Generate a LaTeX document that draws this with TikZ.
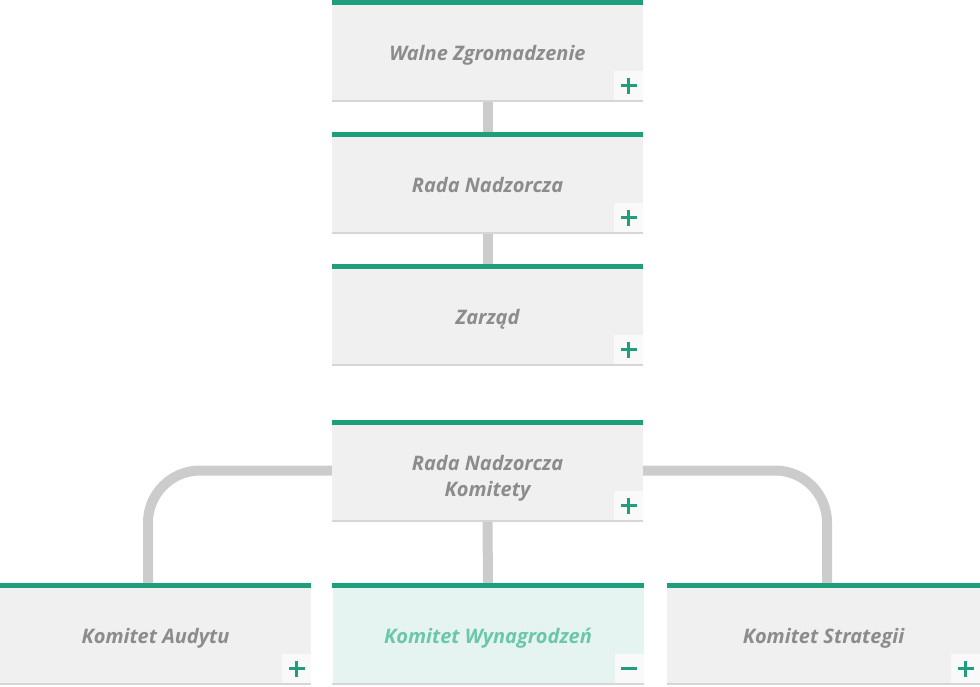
\documentclass[tikz,border=0pt]{standalone}
\usepackage{fontspec}
\setmainfont{Open Sans}
\usepackage{tikz}

\definecolor{barteal}{HTML}{1E9E7D}
\definecolor{boxgray}{HTML}{F0F0F0}
\definecolor{boxmint}{HTML}{E6F4F1}
\definecolor{labelgray}{HTML}{8C8C8C}
\definecolor{labelmint}{HTML}{6CC6AD}
\definecolor{linkgray}{HTML}{CCCCCC}
\definecolor{shadowgray}{HTML}{D6D6D6}

\tikzset{
  orgbox/.style={rectangle, fill=boxgray, minimum width=311pt, minimum height=95pt,
    inner sep=0pt, align=center, text=labelgray, text height=17pt, text depth=2pt,
    font=\fontsize{20}{26}\selectfont\bfseries\itshape},
  activebox/.style={orgbox, fill=boxmint, text=labelmint},
  link/.style={draw=linkgray, line width=10pt},
  btn/.style={fill=white!60!boxgray, minimum size=29pt, inner sep=0pt, anchor=south east},
  sign/.style={draw=barteal, line width=2.2pt}
}

\begin{document}
\begin{tikzpicture}[x=1pt,y=-1pt]
\useasboundingbox (0,0) rectangle (980,686);

% top chain
\node[orgbox] (wz) at (487.5,52.5) {Walne Zgromadzenie};
\node[orgbox] (rn) at (487.5,184.5) {Rada Nadzorcza};
\node[orgbox] (zr) at (487.5,316.5) {Zarząd};
\node[orgbox, text height=49pt] (rk) at (487.5,472.5) {Rada Nadzorcza\\Komitety};

% committees
\node[orgbox] (ka) at (155.5,635.5) {Komitet Audytu};
\node[activebox] (kw) at (488,635.5) {Komitet Wynagrodzeń};
\node[orgbox, minimum width=313pt] (ks) at (823.5,635.5) {Komitet Strategii};

% connectors
\draw[link] (wz.south) -- (rn.north);
\draw[link] (rn.south) -- (zr.north);
\draw[link] (rk.south) -- (kw.north);
\draw[link, rounded corners=52pt] ([yshift=2pt]rk.west) -| ([xshift=-7.5pt]ka.north);
\draw[link, rounded corners=52pt] ([yshift=2pt]rk.east) -| ([xshift=3.5pt]ks.north);

% bars, shadows, buttons
\foreach \n in {wz,rn,zr,rk,ka,kw,ks} {
  \fill[barteal] (\n.north west) rectangle ([yshift=5pt]\n.north east);
  \fill[shadowgray] (\n.south west) rectangle ([yshift=-2pt]\n.south east);
  \node[btn] (\n-btn) at (\n.south east) {};
}
\foreach \n in {wz,rn,zr,rk,ka,ks} {
  \draw[sign] ([xshift=-8pt]\n-btn.center) -- ([xshift=8pt]\n-btn.center);
  \draw[sign] ([yshift=-8pt]\n-btn.center) -- ([yshift=8pt]\n-btn.center);
}
\draw[sign] ([xshift=-8pt]kw-btn.center) -- ([xshift=8pt]kw-btn.center);
\end{tikzpicture}
\end{document}
